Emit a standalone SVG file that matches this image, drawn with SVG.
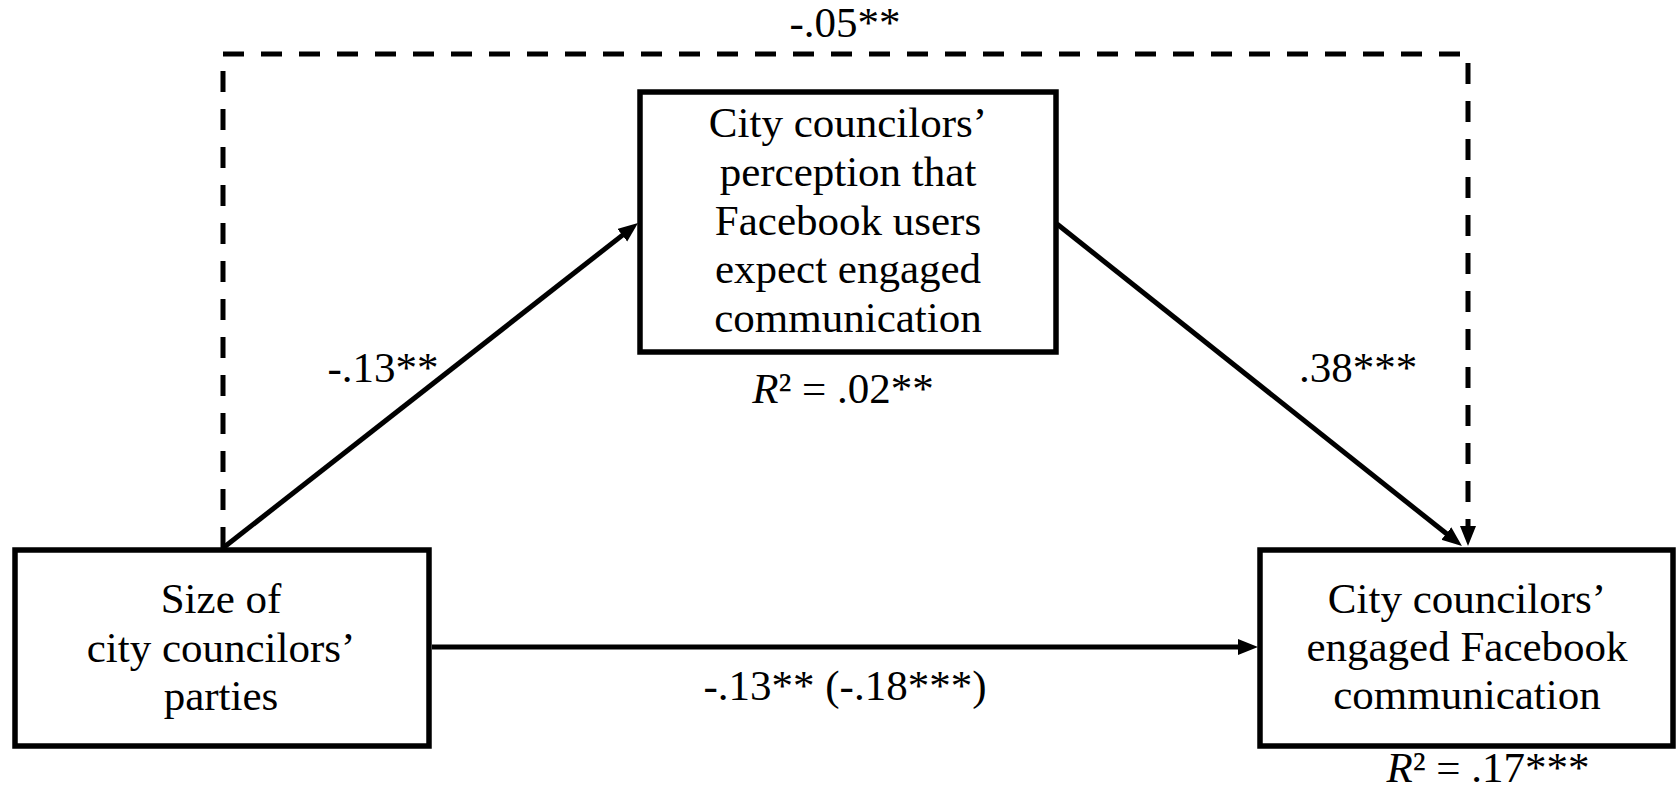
<svg xmlns="http://www.w3.org/2000/svg" width="1677" height="795" viewBox="0 0 1677 795">
<style>
.box{fill:#fff;stroke:#000;stroke-width:5.5}
.t{font-family:'Liberation Serif','DejaVu Serif',serif;font-size:43px;fill:#000;text-anchor:middle}
.c{fill:none;stroke:#000;stroke-width:5}
.d{stroke-dasharray:21 17}
</style>
<defs>
<marker id="ah" markerUnits="userSpaceOnUse" markerWidth="22" markerHeight="18" refX="6" refY="8" orient="auto" viewBox="0 0 22 18">
<path d="M0,0 L20,8 L0,16 z" fill="#000"/>
</marker>
</defs>
<rect width="1677" height="795" fill="#fff"/>
<g id="connectors" font-family="Liberation Serif, serif">
<path class="c d" d="M223,548 V54 H1468 V532" marker-end="url(#ah)"/>
<line class="c" x1="223" y1="548" x2="627" y2="231.6" marker-end="url(#ah)"/>
<line class="c" x1="1057" y1="224" x2="1451" y2="537.3" marker-end="url(#ah)"/>
<line class="c" x1="432" y1="647" x2="1244" y2="647" marker-end="url(#ah)"/>
<text class="t" x="845" y="37">-.05**</text>
<text class="t" x="383" y="382">-.13**</text>
<text class="t" x="1358" y="382">.38***</text>
<text class="t" x="845" y="700">-.13** (-.18***)</text>
</g>
<g id="node-size" font-family="Liberation Serif, serif">
<rect class="box" x="15" y="550" width="414" height="196"/>
<text class="t" x="221" y="613">Size of</text>
<text class="t" x="221" y="662">city councilors’</text>
<text class="t" x="221" y="710">parties</text>
</g>
<g id="node-perception" font-family="Liberation Serif, serif">
<rect class="box" x="640" y="92" width="416" height="260"/>
<text class="t" x="848" y="137">City councilors’</text>
<text class="t" x="848" y="185.75">perception that</text>
<text class="t" x="848" y="234.5">Facebook users</text>
<text class="t" x="848" y="283.25">expect engaged</text>
<text class="t" x="848" y="332">communication</text>
<text class="t" x="843" y="403"><tspan font-style="italic">R</tspan>² = .02**</text>
</g>
<g id="node-engaged" font-family="Liberation Serif, serif">
<rect class="box" x="1260" y="550" width="413" height="196"/>
<text class="t" x="1467" y="613">City councilors’</text>
<text class="t" x="1467" y="661">engaged Facebook</text>
<text class="t" x="1467" y="709">communication</text>
<text class="t" x="1488" y="782"><tspan font-style="italic">R</tspan>² = .17***</text>
</g>
</svg>
